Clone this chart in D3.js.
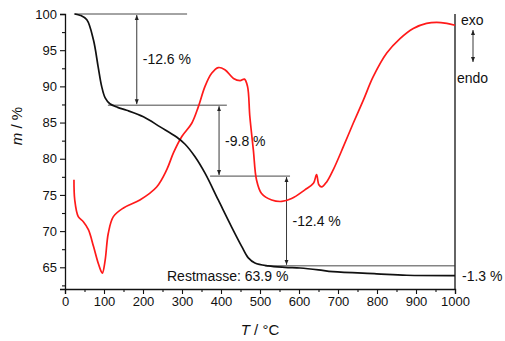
<!DOCTYPE html>
<html>
<head>
<meta charset="utf-8">
<script src="https://cdn.jsdelivr.net/npm/d3@7"></script>
<style>
  html, body { margin: 0; padding: 0; background: #fff; }
  svg { display: block; font-family: "Liberation Sans", Arial, sans-serif; }
</style>
</head>
<body>
<svg id="chart" width="505" height="341"></svg>
<script>
// Thermogravimetric mass curve (T in °C, mass in %)
const tgaT    = [25, 40, 56, 73, 85, 94, 103, 115, 135, 158, 201, 244, 286, 308, 333, 359, 393, 427, 453, 470, 487, 521, 564, 603, 650, 687, 799, 876, 1000];
const tgaMass = [100, 99.8, 99.2, 96.4, 92.7, 90.0, 88.4, 87.6, 87.1, 86.7, 85.8, 84.4, 83.0, 82.0, 80.3, 78.0, 74.3, 70.6, 67.9, 66.3, 65.6, 65.2, 65.0, 64.9, 64.65, 64.4, 64.1, 63.9, 63.85];

// DSC heat-flow signal (arbitrary units, exo up)
const dscT   = [23, 25, 34, 47, 60, 73, 85, 93, 96, 103, 111, 124, 150, 192, 235, 261, 278, 300, 325, 342, 359, 376, 393, 410, 432, 449, 460, 468, 474, 483, 491, 504, 530, 556, 581, 615, 637, 645, 651, 658, 671, 688, 714, 739, 765, 790, 825, 859, 893, 927, 953, 979, 1000];
const dscVal = [77.1, 74.3, 72.0, 71.3, 70.2, 67.9, 65.6, 64.4, 64.2, 66.0, 69.7, 72.0, 73.2, 74.3, 76.1, 78.5, 80.8, 83.1, 84.9, 87.2, 90.0, 91.8, 92.6, 92.3, 91.1, 90.8, 91.0, 90.0, 85.8, 81.2, 77.1, 75.2, 74.3, 74.1, 74.5, 75.7, 76.6, 77.8, 76.4, 76.1, 76.8, 78.5, 81.7, 84.9, 88.1, 91.3, 94.6, 96.6, 98.0, 98.7, 98.85, 98.7, 98.45];

// Mass-loss steps: levels, horizontal guide extents, arrow positions, labels
const stepLevels = [100, 87.4, 77.6, 65.2];
const guideFrom  = [23, 110, 372, 513];
const guideTo    = [313, 415, 577, 1000];
const arrowT     = [184, 395, 568];
const stepLabels = ["-12.6 %", "-9.8 %", "-12.4 %"];
const residualLabel = "Restmasse: 63.9 %";
const finalStepLabel = "-1.3 %";
const finalLevel = 63.85;

const xTicks = d3.range(0, 1001, 100);
const xMinor = d3.range(50, 1000, 100);
const yTicks = d3.range(65, 101, 5);
const yMinor = d3.range(62.5, 100, 5);

const svg = d3.select("#chart");
const x = d3.scaleLinear().domain([0, 1000]).range([65, 455]);
const y = d3.scaleLinear().domain([62, 100]).range([289, 14]);
const yDsc = d3.scaleLinear().domain([62, 100]).range([289, 14]);

// arrowheads
const defs = svg.append("defs");
["start", "end"].forEach(k => {
  defs.append("marker")
    .attr("id", "ah-" + k)
    .attr("viewBox", "0 0 10 10")
    .attr("refX", 10).attr("refY", 5)
    .attr("markerWidth", 5).attr("markerHeight", 7)
    .attr("markerUnits", "userSpaceOnUse")
    .attr("orient", k === "start" ? "auto-start-reverse" : "auto")
    .append("path").attr("d", "M0,1 L10,5 L0,9 Z").attr("fill", "#222");
});

// axes
const gx = svg.append("g").attr("transform", `translate(0,${y.range()[0]})`)
  .call(d3.axisBottom(x).tickValues(xTicks).tickSize(5).tickPadding(3).tickFormat(d3.format("d")));
svg.append("g").attr("transform", `translate(0,${y.range()[0]})`)
  .call(d3.axisBottom(x).tickValues(xMinor).tickSize(3).tickFormat(""))
  .call(g => g.select(".domain").remove());
const gy = svg.append("g").attr("transform", `translate(${x.range()[0]},0)`)
  .call(d3.axisLeft(y).tickValues(yTicks).tickSize(5).tickPadding(3).tickFormat(d3.format("d")));
svg.append("g").attr("transform", `translate(${x.range()[0]},0)`)
  .call(d3.axisLeft(y).tickValues(yMinor).tickSize(3).tickFormat(""))
  .call(g => g.select(".domain").remove());
svg.selectAll(".domain").attr("stroke", "#111").attr("stroke-width", 1.3);
svg.selectAll(".tick line").attr("stroke", "#111").attr("stroke-width", 1.1);
svg.selectAll(".tick text").attr("font-size", 13).attr("fill", "#111")
  .attr("font-family", "'Liberation Sans', Arial, sans-serif");

// right-hand DSC axis line
svg.append("line")
  .attr("x1", x(1000)).attr("x2", x(1000))
  .attr("y1", y(100)).attr("y2", y.range()[0])
  .attr("stroke", "#111").attr("stroke-width", 1.3);

// horizontal guide lines at step levels
svg.append("g").selectAll("line").data(stepLevels).join("line")
  .attr("x1", (d, i) => x(guideFrom[i])).attr("x2", (d, i) => x(guideTo[i]))
  .attr("y1", d => y(d)).attr("y2", d => y(d))
  .attr("stroke", "#333").attr("stroke-width", 0.9);

// double arrows between consecutive levels
svg.append("g").selectAll("line").data(arrowT).join("line")
  .attr("x1", d => x(d)).attr("x2", d => x(d))
  .attr("y1", (d, i) => y(stepLevels[i]) + 1)
  .attr("y2", (d, i) => y(stepLevels[i + 1]) - 1)
  .attr("stroke", "#222").attr("stroke-width", 0.9)
  .attr("marker-start", "url(#ah-start)")
  .attr("marker-end", "url(#ah-end)");

svg.append("g").selectAll("text").data(stepLabels).join("text")
  .attr("x", (d, i) => x(arrowT[i]) + 6)
  .attr("y", (d, i) => (y(stepLevels[i]) + y(stepLevels[i + 1])) / 2)
  .attr("dy", "0.35em")
  .attr("font-size", 14).attr("fill", "#111")
  .text(d => d);

// DSC curve
svg.append("path").datum(dscT.map((t, i) => [t, dscVal[i]]))
  .attr("fill", "none").attr("stroke", "#ff1a1a").attr("stroke-width", 1.7)
  .attr("stroke-linejoin", "round")
  .attr("d", d3.line().x(d => x(d[0])).y(d => yDsc(d[1])).curve(d3.curveCatmullRom.alpha(0.5)));

// TGA curve
svg.append("path").datum(tgaT.map((t, i) => [t, tgaMass[i]]))
  .attr("fill", "none").attr("stroke", "#111").attr("stroke-width", 1.7)
  .attr("stroke-linejoin", "round")
  .attr("d", d3.line().x(d => x(d[0])).y(d => y(d[1])).curve(d3.curveCatmullRom.alpha(0.5)));

// residual mass and final step labels
svg.append("text").attr("x", 167).attr("y", y(finalLevel)).attr("dy", "0.35em")
  .attr("font-size", 14).attr("fill", "#111").text(residualLabel);
svg.append("text").attr("x", x(1000) + 7).attr("y", y(finalLevel)).attr("dy", "0.35em")
  .attr("font-size", 14).attr("fill", "#111").text(finalStepLabel);

// exo / endo indicator
svg.append("text").attr("x", x(1000) + 6).attr("y", 20).attr("dy", "0.35em")
  .attr("font-size", 14).attr("fill", "#111").text("exo");
svg.append("text").attr("x", x(1000) + 2).attr("y", 78).attr("dy", "0.35em")
  .attr("font-size", 14).attr("fill", "#111").text("endo");
svg.append("line").attr("x1", 473).attr("x2", 473).attr("y1", 30).attr("y2", 62)
  .attr("stroke", "#222").attr("stroke-width", 0.9)
  .attr("marker-start", "url(#ah-start)").attr("marker-end", "url(#ah-end)");

// axis titles
const xt = svg.append("text").attr("x", 260).attr("y", 330).attr("dy", "0.35em")
  .attr("text-anchor", "middle").attr("font-size", 15).attr("fill", "#111");
xt.append("tspan").attr("font-style", "italic").text("T");
xt.append("tspan").text(" / °C");

const yt = svg.append("text")
  .attr("transform", "translate(17,126) rotate(-90)")
  .attr("dy", "0.35em").attr("text-anchor", "middle").attr("font-size", 15).attr("fill", "#111");
yt.append("tspan").attr("font-style", "italic").text("m");
yt.append("tspan").text(" / %");
</script>
</body>
</html>
